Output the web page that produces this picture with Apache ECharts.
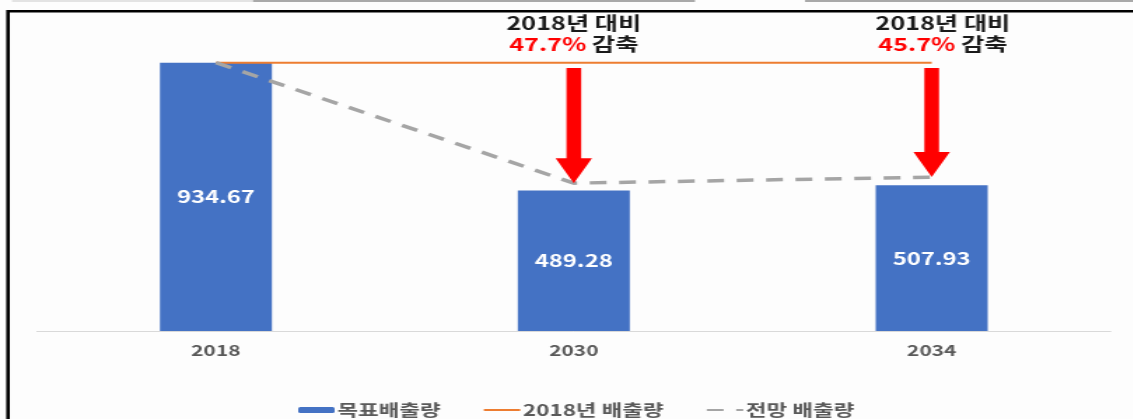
<!DOCTYPE html>
<html>
<head>
<meta charset="utf-8">
<script src="https://cdn.jsdelivr.net/npm/echarts@6/dist/echarts.min.js"></script>
<style>
  html, body { margin: 0; padding: 0; background: #fdfdfd; overflow: hidden; }
  #chart { height: 419px; transform-origin: 0 0; }
</style>
</head>
<body>
<div id="chart"></div>
<script>
// Emission data (unit: million tCO2eq)
const categories = ['2018', '2030', '2034'];
const targetEmission = [934.67, 489.28, 507.93];      // 목표배출량 (bars)
const baseEmission2018 = [934.67, 934.67, 934.67];    // 2018년 배출량 (flat reference line)
const projectedEmission = [934.67, 515, 536];         // 전망 배출량 (dashed line)

const legendNames = ['목표배출량', '2018년 배출량', '전망 배출량'];

// The whole drawing is laid out narrow and widened horizontally by CSS
const STRETCH = 1.4;
const PAGE_W = 1133;
const W = PAGE_W / STRETCH;
const el = document.getElementById('chart');
el.style.width = W + 'px';
el.style.transform = 'scaleX(' + STRETCH + ')';

const FONT = '"Noto Sans CJK KR", "Liberation Sans", sans-serif';
const ARROW_TOP_VALUE = 916;   // where the reduction arrows start, in axis units
const NOTE_DX = [0, 0, 8];     // small horizontal nudge of each note

// Reduction vs. 2018, computed from the bar values
const arrowData = categories.map((c, i) => {
  const pct = ((1 - targetEmission[i] / targetEmission[0]) * 100).toFixed(1);
  return [i, ARROW_TOP_VALUE, projectedEmission[i], pct];
}).slice(1);

const chart = echarts.init(el, null, { renderer: 'canvas' });

// line entries in the legend show only the stroke, no marker
const lineLegendItem = name => ({ name: name, itemStyle: { opacity: 0 } });

chart.setOption({
  animation: false,
  backgroundColor: '#fdfdfd',
  textStyle: { fontFamily: FONT },
  grid: { left: 26.4, right: W - 793.6, top: 43.9, bottom: 88, containLabel: false },
  legend: {
    data: [legendNames[0], lineLegendItem(legendNames[1]), lineLegendItem(legendNames[2])],
    left: 208,
    top: 397,
    itemWidth: 26,
    itemHeight: 6,
    itemGap: 30,
    textStyle: {
      color: '#595959', fontSize: 16, fontWeight: 'bold', fontFamily: FONT,
      padding: [0, 0, 0, -3]
    }
  },
  xAxis: {
    type: 'category',
    data: categories,
    axisLine: { lineStyle: { color: '#d9d9d9', width: 1 } },
    axisTick: { show: false },
    axisLabel: { color: '#595959', fontSize: 15, fontWeight: 'bold', margin: 12, fontFamily: FONT }
  },
  yAxis: {
    type: 'value', min: 0, max: 1000,
    show: false,
    splitLine: { show: false }
  },
  series: [
    {
      name: legendNames[0],
      type: 'bar',
      data: targetEmission,
      barWidth: 80,
      itemStyle: { color: '#4472C4' },
      label: {
        show: true, position: 'inside', color: '#ffffff',
        fontSize: 17, fontWeight: 'bold', fontFamily: FONT
      },
      emphasis: { disabled: true },
      z: 2
    },
    {
      name: legendNames[1],
      type: 'line',
      data: baseEmission2018,
      symbol: 'none',
      lineStyle: { color: '#ED7D31', width: 2 },
      itemStyle: { color: '#ED7D31' },
      emphasis: { disabled: true },
      z: 3
    },
    {
      name: legendNames[2],
      type: 'line',
      data: projectedEmission,
      symbol: 'none',
      lineStyle: { color: '#A5A5A5', width: 3.5, type: [12, 9] },
      itemStyle: { color: '#A5A5A5' },
      emphasis: { disabled: true },
      z: 3
    },
    {
      type: 'custom',
      data: arrowData,
      encode: { x: 0, y: [1, 2] },
      clip: false,
      z: 5,
      renderItem: function (params, api) {
        const idx = api.value(0);
        const top = api.coord([idx, api.value(1)]);
        const tip = api.coord([idx, api.value(2)]);
        const pct = arrowData[params.dataIndex][3];
        const x = top[0];
        const shaftW = 10.5, headW = 26, headH = 25;
        return {
          type: 'group',
          children: [
            {
              type: 'rect',
              shape: { x: x - shaftW / 2, y: top[1], width: shaftW, height: tip[1] - headH - top[1] + 1 },
              style: { fill: '#FF0000' }
            },
            {
              type: 'polygon',
              shape: { points: [[x - headW / 2, tip[1] - headH], [x + headW / 2, tip[1] - headH], [x, tip[1]]] },
              style: { fill: '#FF0000' }
            },
            {
              type: 'text',
              x: x + NOTE_DX[idx],
              y: top[1] - 13,
              style: {
                text: '2018년 대비\n{r|' + pct + '%} 감축',
                fill: '#1a1a1a',
                font: 'bold 18px ' + FONT,
                lineHeight: 21,
                align: 'center',
                verticalAlign: 'bottom',
                rich: {
                  r: { fill: '#FF0000', color: '#FF0000', fontSize: 18, fontWeight: 'bold', fontFamily: FONT, lineHeight: 21 }
                }
              }
            }
          ]
        };
      }
    }
  ],
  graphic: [
    // thin strips along the very top edge
    { type: 'line', silent: true, shape: { x1: 12 / STRETCH, y1: 1, x2: 253 / STRETCH, y2: 1 }, style: { stroke: '#e3e3e3', lineWidth: 2 } },
    { type: 'line', silent: true, shape: { x1: 253 / STRETCH, y1: 1, x2: 695 / STRETCH, y2: 1 }, style: { stroke: '#a9a9a9', lineWidth: 2 } },
    { type: 'line', silent: true, shape: { x1: 805 / STRETCH, y1: 1, x2: W, y2: 1 }, style: { stroke: '#a9a9a9', lineWidth: 2 } },
    // black frame (left and top edges)
    { type: 'polyline', silent: true, shape: { points: [[8 / STRETCH, 425], [8 / STRETCH, 11.3], [W + 5, 11.3]] }, style: { stroke: '#000000', lineWidth: 2.6, fill: null } }
  ]
});
</script>
</body>
</html>
